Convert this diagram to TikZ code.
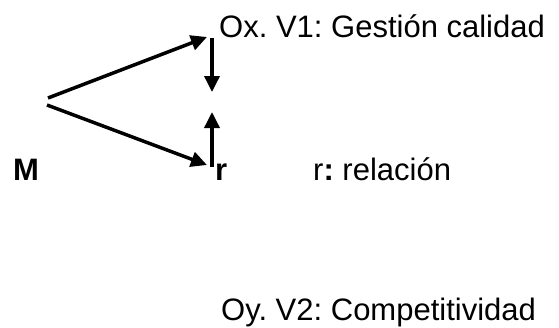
\documentclass[tikz,border=0pt]{standalone}
\usepackage{fontspec}
\setmainfont{Liberation Sans}
\usetikzlibrary{arrows.meta}
\begin{document}
\frenchspacing
\begin{tikzpicture}[x=1pt,y=-1pt,
  conn/.style={line width=3.5pt,-{Triangle[length=16pt,width=15pt]}},
  lbl/.style={anchor=base west,inner sep=0pt,font=\fontsize{31}{37}\selectfont}]
\useasboundingbox (0,0) rectangle (559,327);
\node[lbl] (M) at (13,180) {\textbf{M}};
\node[lbl] (r) at (215,180) {\textbf{r}};
\node[lbl] (ox) at (219,37) {Ox. V1: Gestión calidad};
\node[lbl] (rel) at (313,180) {r\textbf{:} relación};
\node[lbl] (oy) at (221,320) {Oy. V2: Competitividad};
\coordinate (s1) at (48,98);
\coordinate (t1) at (207,37);
\coordinate (s2) at (47,105);
\coordinate (t2) at (207,165);
\coordinate (d1) at (212,38);
\coordinate (d2) at (212,92);
\coordinate (u1) at (212,167);
\coordinate (u2) at (212,112);
\draw[conn] (s1) -- (t1);
\draw[conn] (s2) -- (t2);
\draw[conn] (d1) -- (d2);
\draw[conn] (u1) -- (u2);
\end{tikzpicture}
\end{document}
